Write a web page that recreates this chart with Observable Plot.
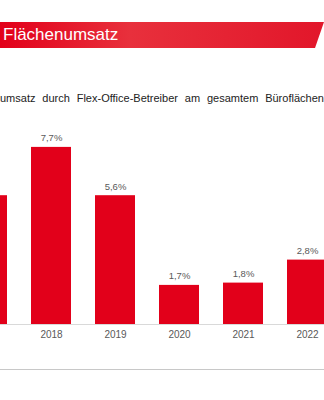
<!DOCTYPE html>
<html>
<head>
<meta charset="utf-8">
<script src="https://cdn.jsdelivr.net/npm/d3@7"></script>
<script src="https://cdn.jsdelivr.net/npm/@observablehq/plot@0.6"></script>
<style>
  html, body { margin: 0; padding: 0; background: #fff; }
  body { width: 324px; height: 400px; overflow: hidden; position: relative; font-family: "Liberation Sans", Arial, sans-serif; }
  #header { position: absolute; left: 0; top: 22px; width: 324px; height: 26px;
    background: linear-gradient(90deg, #e2001a 0%, #e8303c 40%, #e2162a 100%);
    clip-path: polygon(0 0, 324px 0, 315px 26px, 0 26px); }
  #header span { position: absolute; left: 3px; top: 3px; color: #fff; font-size: 17px; line-height: 20px; white-space: nowrap; }
  #subtitle { position: absolute; left: 0; top: 91px; font-size: 11px; line-height: 14px; color: #222; white-space: nowrap; word-spacing: 3.8px; }
  #chart { position: absolute; left: 0; top: 120px; width: 324px; overflow: hidden; }
  #footer { position: absolute; left: 0; top: 369px; width: 324px; height: 0; border-top: 1.5px solid #c8c8c8; }
</style>
</head>
<body>
<div id="header"><span>Flächenumsatz</span></div>
<div id="subtitle">umsatz durch Flex-Office-Betreiber am gesamtem Büroflächen</div>
<div id="chart"></div>
<div id="footer"></div>
<script>
const years = ["2017", "2018", "2019", "2020", "2021", "2022"];
const shares = [5.6, 7.7, 5.6, 1.7, 1.8, 2.8];
const labeledYears = ["2018", "2019", "2020", "2021", "2022"];

const data = years.map((y, i) => ({year: y, share: shares[i]}));
const labeled = data.filter(d => labeledYears.includes(d.year));
const fmt = v => v.toFixed(1).replace(".", ",") + "%";

const chart = Plot.plot({
  width: 324,
  height: 226,
  marginTop: 0, marginBottom: 22, marginLeft: 0, marginRight: 0,
  style: {fontFamily: "Liberation Sans, Arial, sans-serif", background: "#fff", overflow: "hidden"},
  x: {domain: years, range: [-57, 351], padding: 0.375, label: null},
  y: {domain: [0, 8], range: [204, 20], axis: null},
  marks: [
    Plot.barY(data, {x: "year", y: "share", fill: "#e2001a"}),
    Plot.ruleY([0], {stroke: "#d9d9d9", strokeWidth: 1}),
    Plot.text(labeled, {x: "year", y: "share", text: d => fmt(d.share), dy: -9, fontSize: 9.5, fill: "#595959"}),
    Plot.axisX({ticks: labeledYears, tickSize: 0, tickPadding: 6, fontSize: 10, color: "#595959", label: null})
  ]
});
document.getElementById("chart").appendChild(chart);
</script>
</body>
</html>
